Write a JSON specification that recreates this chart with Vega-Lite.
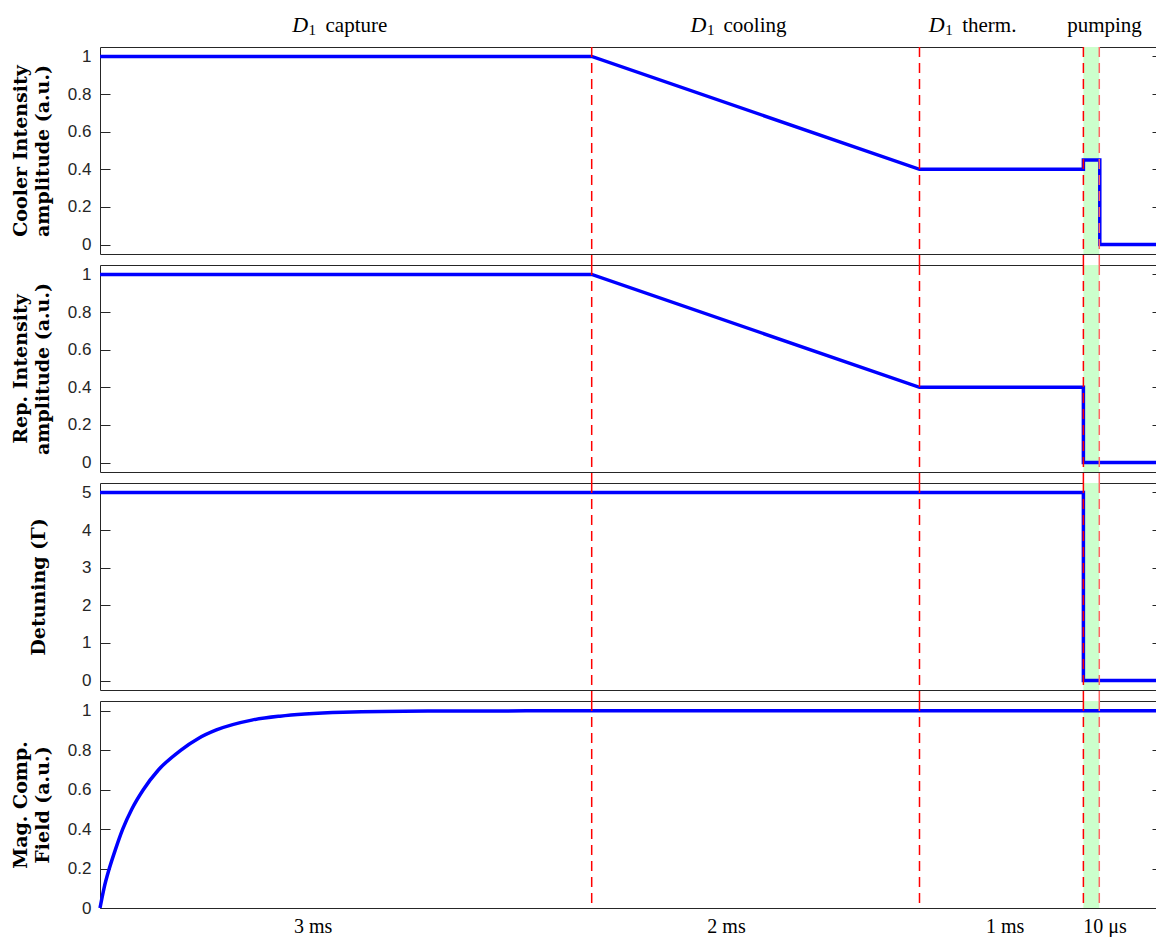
{
  "$schema": "https://vega.github.io/schema/vega-lite/v6.json",
  "padding": {"left": 11, "top": 13, "right": 0, "bottom": 0},
  "background": "white",
  "spacing": 11,
  "bounds": "flush",
  "config": {
    "view": {"stroke": null},
    "axis": {
      "grid": false,
      "labelFont": "Liberation Sans",
      "labelFontSize": 17,
      "labelColor": "#262626",
      "domainColor": "#262626",
      "tickColor": "#262626",
      "titleFont": "DejaVu Serif",
      "titleFontSize": 19,
      "titleFontWeight": "bold",
      "titleColor": "#000000"
    },
    "text": {"font": "Liberation Serif", "fontSize": 21, "color": "#000000"}
  },
  "datasets": {
    "cooler": [
      {"t": 0, "v": 1}, {"t": 3, "v": 1}, {"t": 5, "v": 0.4}, {"t": 6, "v": 0.4},
      {"t": 6, "v": 0.45}, {"t": 6.1, "v": 0.45}, {"t": 6.1, "v": 0}, {"t": 6.443, "v": 0}
    ],
    "repumper": [
      {"t": 0, "v": 1}, {"t": 3, "v": 1}, {"t": 5, "v": 0.4}, {"t": 6, "v": 0.4},
      {"t": 6, "v": 0}, {"t": 6.443, "v": 0}
    ],
    "detuning": [
      {"t": 0, "v": 5}, {"t": 6, "v": 5}, {"t": 6, "v": 0}, {"t": 6.443, "v": 0}
    ],
    "field": [
      {"t": 0, "v": 0}, {"t": 0.0244, "v": 0.1}, {"t": 0.0567, "v": 0.2}, {"t": 0.0955, "v": 0.3},
      {"t": 0.1385, "v": 0.4}, {"t": 0.193, "v": 0.5}, {"t": 0.264, "v": 0.6}, {"t": 0.356, "v": 0.7},
      {"t": 0.492, "v": 0.8}, {"t": 0.6, "v": 0.86}, {"t": 0.71, "v": 0.903}, {"t": 0.926, "v": 0.953},
      {"t": 1.098, "v": 0.973}, {"t": 1.25, "v": 0.984}, {"t": 1.483, "v": 0.993}, {"t": 2.0, "v": 0.999},
      {"t": 2.6, "v": 1.0}, {"t": 6.443, "v": 1.0}
    ],
    "events": [{"t": 3}, {"t": 5}, {"t": 6}],
    "band": [{"start": 6, "end": 6.097}],
    "phaseMath": [
      {"d": 1.1727, "s": 1.2727, "math": "D", "sub": "1"},
      {"d": 3.6028, "s": 3.7028, "math": "D", "sub": "1"},
      {"d": 5.0567, "s": 5.1567, "math": "D", "sub": "1"}
    ],
    "phaseWords": [
      {"w": 1.3758, "word": "capture"},
      {"w": 3.8042, "word": "cooling"},
      {"w": 5.2605, "word": "therm."},
      {"w": 5.9012, "word": "pumping"}
    ],
    "durations": [
      {"c": 1.3008, "label": "3 ms"},
      {"c": 3.8225, "label": "2 ms"},
      {"c": 5.5229, "label": "1 ms"},
      {"c": 6.1318, "label": "10 μs"}
    ]
  },
  "vconcat": [
    {
      "width": 1056,
      "height": 207,
      "layer": [
        {
          "data": {"name": "band"},
          "mark": {"type": "rect", "fill": "#ccffcc"},
          "encoding": {
            "x": {"field": "start", "type": "quantitative", "scale": {"domain": [0, 6.443], "nice": false, "zero": false},
                  "axis": {"orient": "top", "labels": false, "ticks": false, "title": null, "domain": true}},
            "x2": {"field": "end"}
          }
        },
        {
          "data": {"name": "cooler"},
          "mark": {"type": "line", "color": "#0000ff", "strokeWidth": 3.5},
          "encoding": {
            "x": {"field": "t", "type": "quantitative", "axis": {"orient": "bottom", "labels": false, "ticks": false, "title": null}},
            "y": {"field": "v", "type": "quantitative", "scale": {"domain": [-0.05, 1.05], "nice": false, "zero": false},
                  "axis": {"orient": "left", "values": [0, 0.2, 0.4, 0.6, 0.8, 1], "format": "~g", "tickSize": -10, "labelPadding": 19,
                           "title": ["Cooler Intensity", "amplitude (a.u.)"], "titleX": -69.5, "titleBaseline": "bottom", "titleLineHeight": 22}},
            "order": {"value": null}
          }
        },
        {
          "data": {"name": "events"},
          "mark": {"type": "rule", "color": "#ff0000", "strokeWidth": 1.5, "strokeDash": [10, 6]},
          "encoding": {
            "x": {"field": "t", "type": "quantitative", "axis": null},
            "y": {"datum": 1.05, "axis": {"orient": "right", "values": [0, 0.2, 0.4, 0.6, 0.8, 1], "labels": false, "domain": false, "tickSize": -4, "title": null}},
            "y2": {"datum": -0.1085}
          }
        },
        {
          "data": {"name": "band"},
          "mark": {"type": "rule", "color": "#ff6666", "strokeWidth": 1.5, "strokeDash": [10, 6]},
          "encoding": {
            "x": {"field": "end", "type": "quantitative", "axis": null},
            "y": {"datum": 1.05, "axis": null},
            "y2": {"datum": -0.1085}
          }
        },
        {
          "data": {"name": "phaseMath"},
          "mark": {"type": "text", "align": "left", "baseline": "alphabetic", "fontStyle": "italic", "fontSize": 22},
          "encoding": {
            "x": {"field": "d", "type": "quantitative", "axis": null},
            "y": {"datum": 1.13, "axis": null},
            "text": {"field": "math"}
          }
        },
        {
          "data": {"name": "phaseMath"},
          "mark": {"type": "text", "align": "left", "baseline": "alphabetic", "fontSize": 15},
          "encoding": {
            "x": {"field": "s", "type": "quantitative", "axis": null},
            "y": {"datum": 1.114, "axis": null},
            "text": {"field": "sub"}
          }
        },
        {
          "data": {"name": "phaseWords"},
          "mark": {"type": "text", "align": "left", "baseline": "alphabetic"},
          "encoding": {
            "x": {"field": "w", "type": "quantitative", "axis": null},
            "y": {"datum": 1.13, "axis": null},
            "text": {"field": "word"}
          }
        }
      ]
    },
    {
      "width": 1056,
      "height": 207,
      "layer": [
        {
          "data": {"name": "band"},
          "mark": {"type": "rect", "fill": "#ccffcc"},
          "encoding": {
            "x": {"field": "start", "type": "quantitative", "scale": {"domain": [0, 6.443], "nice": false, "zero": false},
                  "axis": {"orient": "top", "labels": false, "ticks": false, "title": null, "domain": true}},
            "x2": {"field": "end"}
          }
        },
        {
          "data": {"name": "repumper"},
          "mark": {"type": "line", "color": "#0000ff", "strokeWidth": 3.5},
          "encoding": {
            "x": {"field": "t", "type": "quantitative", "axis": {"orient": "bottom", "labels": false, "ticks": false, "title": null}},
            "y": {"field": "v", "type": "quantitative", "scale": {"domain": [-0.05, 1.05], "nice": false, "zero": false},
                  "axis": {"orient": "left", "values": [0, 0.2, 0.4, 0.6, 0.8, 1], "format": "~g", "tickSize": -10, "labelPadding": 19,
                           "title": ["Rep. Intensity", "amplitude (a.u.)"], "titleX": -69.5, "titleBaseline": "bottom", "titleLineHeight": 22}},
            "order": {"value": null}
          }
        },
        {
          "data": {"name": "events"},
          "mark": {"type": "rule", "color": "#ff0000", "strokeWidth": 1.5, "strokeDash": [10, 6]},
          "encoding": {
            "x": {"field": "t", "type": "quantitative", "axis": null},
            "y": {"datum": 1.05, "axis": {"orient": "right", "values": [0, 0.2, 0.4, 0.6, 0.8, 1], "labels": false, "domain": false, "tickSize": -4, "title": null}},
            "y2": {"datum": -0.1085}
          }
        },
        {
          "data": {"name": "band"},
          "mark": {"type": "rule", "color": "#ff6666", "strokeWidth": 1.5, "strokeDash": [10, 6]},
          "encoding": {
            "x": {"field": "end", "type": "quantitative", "axis": null},
            "y": {"datum": 1.05, "axis": null},
            "y2": {"datum": -0.1085}
          }
        }
      ]
    },
    {
      "width": 1056,
      "height": 207,
      "layer": [
        {
          "data": {"name": "band"},
          "mark": {"type": "rect", "fill": "#ccffcc"},
          "encoding": {
            "x": {"field": "start", "type": "quantitative", "scale": {"domain": [0, 6.443], "nice": false, "zero": false},
                  "axis": {"orient": "top", "labels": false, "ticks": false, "title": null, "domain": true}},
            "x2": {"field": "end"}
          }
        },
        {
          "data": {"name": "detuning"},
          "mark": {"type": "line", "color": "#0000ff", "strokeWidth": 3.5},
          "encoding": {
            "x": {"field": "t", "type": "quantitative", "axis": {"orient": "bottom", "labels": false, "ticks": false, "title": null}},
            "y": {"field": "v", "type": "quantitative", "scale": {"domain": [-0.25, 5.25], "nice": false, "zero": false},
                  "axis": {"orient": "left", "values": [0, 1, 2, 3, 4, 5], "format": "~g", "tickSize": -10, "labelPadding": 19,
                           "title": "Detuning (Γ)", "titleX": -52, "titleBaseline": "bottom"}},
            "order": {"value": null}
          }
        },
        {
          "data": {"name": "events"},
          "mark": {"type": "rule", "color": "#ff0000", "strokeWidth": 1.5, "strokeDash": [10, 6]},
          "encoding": {
            "x": {"field": "t", "type": "quantitative", "axis": null},
            "y": {"datum": 5.25, "axis": {"orient": "right", "values": [0, 1, 2, 3, 4, 5], "labels": false, "domain": false, "tickSize": -4, "title": null}},
            "y2": {"datum": -0.5426}
          }
        },
        {
          "data": {"name": "band"},
          "mark": {"type": "rule", "color": "#ff6666", "strokeWidth": 1.5, "strokeDash": [10, 6]},
          "encoding": {
            "x": {"field": "end", "type": "quantitative", "axis": null},
            "y": {"datum": 5.25, "axis": null},
            "y2": {"datum": -0.5426}
          }
        }
      ]
    },
    {
      "width": 1056,
      "height": 207,
      "layer": [
        {
          "data": {"name": "band"},
          "mark": {"type": "rect", "fill": "#ccffcc"},
          "encoding": {
            "x": {"field": "start", "type": "quantitative", "scale": {"domain": [0, 6.443], "nice": false, "zero": false},
                  "axis": {"orient": "top", "labels": false, "ticks": false, "title": null, "domain": true}},
            "x2": {"field": "end"}
          }
        },
        {
          "data": {"name": "field"},
          "mark": {"type": "line", "color": "#0000ff", "strokeWidth": 3.5, "interpolate": "monotone"},
          "encoding": {
            "x": {"field": "t", "type": "quantitative", "axis": {"orient": "bottom", "labels": false, "ticks": false, "title": null}},
            "y": {"field": "v", "type": "quantitative", "scale": {"domain": [0, 1.05], "nice": false, "zero": false},
                  "axis": {"orient": "left", "values": [0, 0.2, 0.4, 0.6, 0.8, 1], "format": "~g", "tickSize": -10, "labelPadding": 19,
                           "title": ["Mag. Comp.", "Field (a.u.)"], "titleX": -69.5, "titleBaseline": "bottom", "titleLineHeight": 22}},
            "order": {"value": null}
          }
        },
        {
          "data": {"name": "events"},
          "mark": {"type": "rule", "color": "#ff0000", "strokeWidth": 1.5, "strokeDash": [10, 6]},
          "encoding": {
            "x": {"field": "t", "type": "quantitative", "axis": null},
            "y": {"datum": 1.05, "axis": {"orient": "right", "values": [0, 0.2, 0.4, 0.6, 0.8, 1], "labels": false, "domain": false, "tickSize": -4, "title": null}},
            "y2": {"datum": 0}
          }
        },
        {
          "data": {"name": "band"},
          "mark": {"type": "rule", "color": "#ff6666", "strokeWidth": 1.5, "strokeDash": [10, 6]},
          "encoding": {
            "x": {"field": "end", "type": "quantitative", "axis": null},
            "y": {"datum": 1.05, "axis": null},
            "y2": {"datum": 0}
          }
        },
        {
          "data": {"name": "durations"},
          "mark": {"type": "text", "align": "center", "baseline": "alphabetic", "fontSize": 20},
          "encoding": {
            "x": {"field": "c", "type": "quantitative", "axis": null},
            "y": {"datum": -0.1268, "axis": null},
            "text": {"field": "label"}
          }
        }
      ]
    }
  ]
}
